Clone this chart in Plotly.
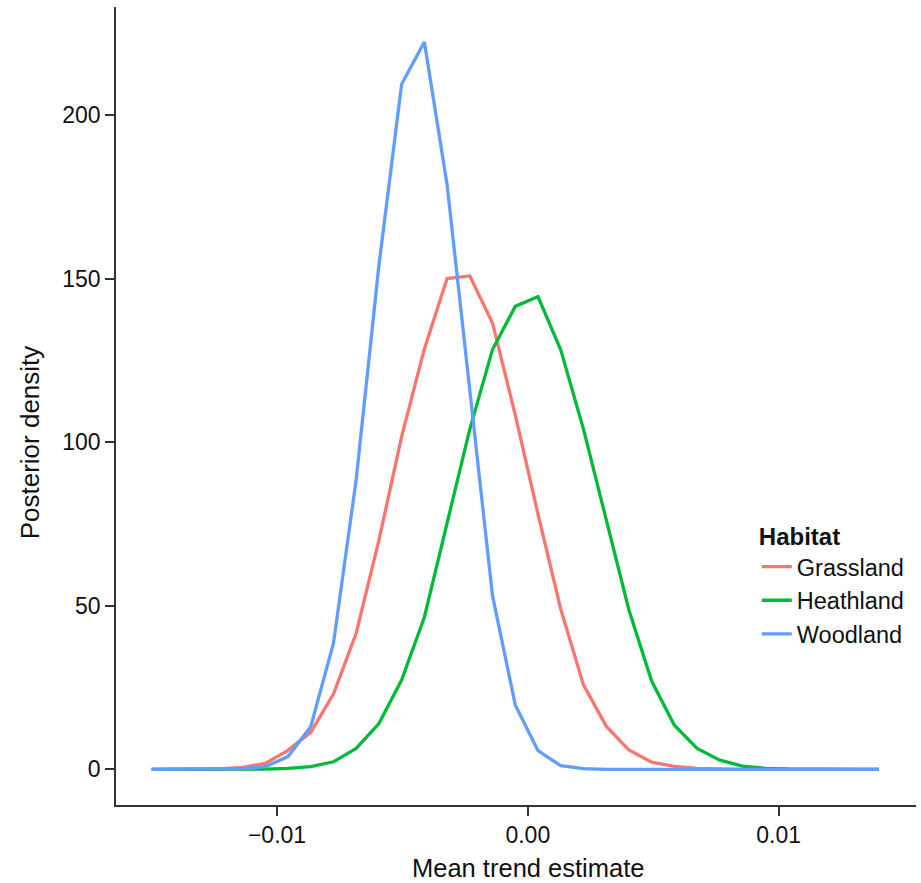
import plotly.graph_objects as go

# grid of trend values (33 points from -0.015 to 0.014)
x_start = -0.015
x_end = 0.014
n_pts = 33
trend = [x_start + i * (x_end - x_start) / (n_pts - 1) for i in range(n_pts)]

grassland = [0, 0, 0, 0.1, 0.6, 1.8, 5.8, 11.3, 23, 41.6, 70, 101.7, 128.5, 150, 150.8,
             136.4, 108.3, 78, 49, 25.8, 13.2, 5.9, 2.2, 0.9, 0.3, 0.1, 0, 0, 0, 0, 0, 0, 0]
heathland = [0, 0, 0, 0, 0, 0.05, 0.3, 0.8, 2.3, 6.4, 14, 27.3, 46.5, 75, 104,
             128.3, 141.5, 144.5, 128.2, 104, 76.3, 48.7, 27, 13.5, 6.4, 2.8, 1.0, 0.3, 0.1, 0, 0, 0, 0]
woodland = [0, 0, 0, 0, 0.2, 0.8, 3.9, 13, 38.5, 88.5, 154, 209.4, 222.3, 178.7, 116,
            53, 19.7, 5.7, 1.1, 0.2, 0, 0, 0, 0, 0, 0, 0, 0, 0, 0, 0, 0, 0]

series_names = ["Grassland", "Heathland", "Woodland"]
series_values = [grassland, heathland, woodland]
series_colors = ["#F8766D", "#00BA38", "#619CFF"]

x_tickvals = [-0.01, 0.0, 0.01]
x_ticktext = ["\u22120.01", "0.00", "0.01"]
y_tickvals = [0, 50, 100, 150, 200]

FONT = "Liberation Sans, Arial, Helvetica, sans-serif"

fig = go.Figure()
for name, vals, col in zip(series_names, series_values, series_colors):
    fig.add_trace(go.Scatter(x=trend, y=vals, mode="lines", name=name,
                             line=dict(color=col, width=3.3)))

fig.update_layout(
    width=921, height=883,
    margin=dict(l=116, r=5, t=7, b=78),
    paper_bgcolor="white", plot_bgcolor="white",
    font=dict(family=FONT, size=23, color="#111111"),
    showlegend=True,
    legend=dict(
        title=dict(text="<b>Habitat</b>", font=dict(size=24, color="#111111")),
        x=0.801, xanchor="left", y=0.365, yanchor="top",
        bgcolor="rgba(0,0,0,0)", font=dict(size=23.5),
        itemwidth=30, tracegroupgap=0,
    ),
    xaxis=dict(
        range=[-0.01642, 0.015478], tickvals=x_tickvals, ticktext=x_ticktext,
        showline=True, linecolor="#333333", linewidth=1.5, mirror=False,
        ticks="outside", ticklen=9, tickwidth=1.5, tickcolor="#333333",
        showgrid=False, zeroline=False,
        tickfont=dict(size=23, color="#111111"),
    ),
    yaxis=dict(
        range=[-10.9, 233.0], tickvals=y_tickvals,
        showline=True, linecolor="#333333", linewidth=1.5, mirror=False,
        ticks="outside", ticklen=9, tickwidth=1.5, tickcolor="#333333",
        showgrid=False, zeroline=False,
        tickfont=dict(size=23, color="#111111"),
    ),
    annotations=[
        dict(text="Mean trend estimate", xref="paper", yref="paper",
             x=0.5148, y=-0.0785, xanchor="center", yanchor="middle",
             showarrow=False, font=dict(size=25.5, color="#111111")),
        dict(text="Posterior density", xref="paper", yref="paper",
             x=-0.107, y=0.455, xanchor="center", yanchor="middle", textangle=-90,
             showarrow=False, font=dict(size=26, color="#111111")),
    ],
)

fig.write_html("out.html")
